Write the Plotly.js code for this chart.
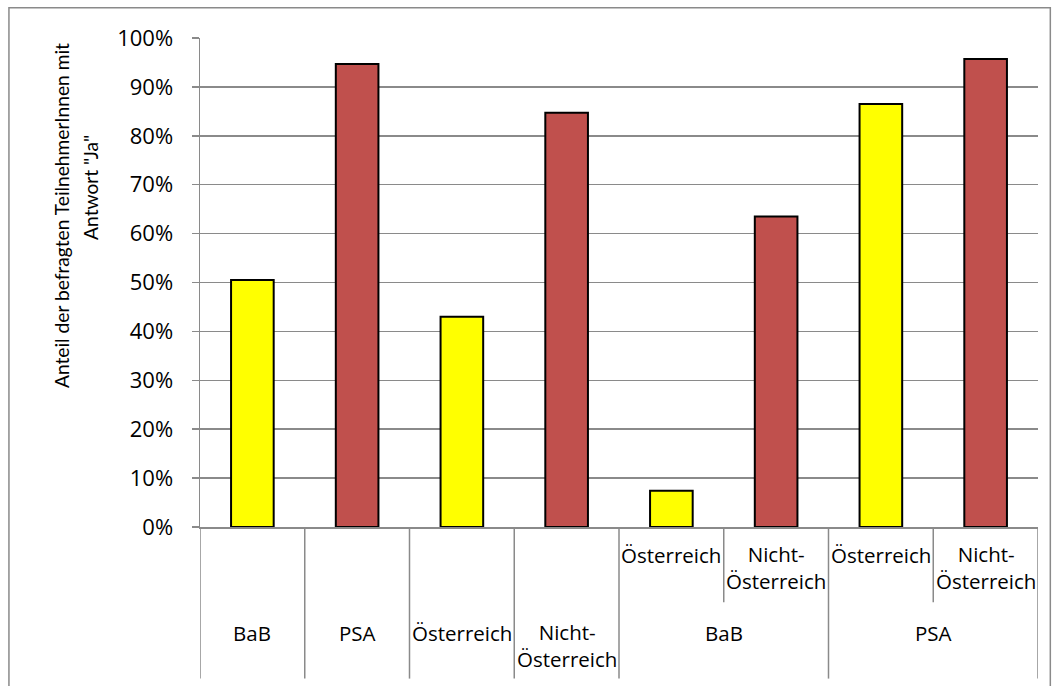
<!DOCTYPE html>
<html>
<head>
<meta charset="utf-8">
<script src="https://cdn.plot.ly/plotly-3.0.1.min.js"></script>
<style>
html,body{margin:0;padding:0;background:#fff;}
#chart{width:1055px;height:686px;}
</style>
</head>
<body>
<div id="chart"></div>
<script>
// ---- data ----
const categories = ["BaB", "PSA", "Österreich", "Nicht-Österreich", "Österreich", "Nicht-Österreich", "Österreich", "Nicht-Österreich"];
const groups = ["", "", "", "", "BaB", "BaB", "PSA", "PSA"];
const values = [0.505, 0.947, 0.430, 0.847, 0.074, 0.635, 0.865, 0.957];
const barColors = ["#FFFF00", "#C0504D", "#FFFF00", "#C0504D", "#FFFF00", "#C0504D", "#FFFF00", "#C0504D"];
const yTitleLines = ["Anteil der befragten TeilnehmerInnen mit", "Antwort \"Ja\""];

// ---- build ----
const FONT = "Open Sans, Lato, sans-serif";
const TITLE_FONT = "Lato, Open Sans, sans-serif";
const CAT_SIZE = 20.5;
const xs = categories.map((_, i) => i);
const fmt = s => s.replace("-", "-<br>");

const trace = {
  type: "bar",
  x: xs,
  y: values,
  marker: { color: barColors, line: { color: "#000000", width: 2 } },
  hoverinfo: "skip"
};

const shapes = [];
const annotations = [];

// category dividers
for (let i = 0; i <= categories.length; i++) {
  const b = i - 0.5;
  let full = true;
  if (i > 0 && i < categories.length && groups[i] !== "" && groups[i] === groups[i - 1]) full = false;
  shapes.push({
    type: "line", xref: "x", yref: "paper",
    x0: b, x1: b, y0: 0, y1: full ? -0.31 : -0.154,
    line: { color: "#8a8a8a", width: 1.5 }
  });
}

// category labels
categories.forEach((c, i) => {
  const twoLine = c.indexOf("-") >= 0;
  if (groups[i] === "") {
    annotations.push({
      xref: "x", yref: "paper", x: i, y: twoLine ? -0.243 : -0.2177,
      text: fmt(c), showarrow: false, xanchor: "center", yanchor: "middle",
      font: { family: FONT, size: CAT_SIZE, color: "#000" }
    });
  } else {
    annotations.push({
      xref: "x", yref: "paper", x: i, y: twoLine ? -0.0835 : -0.058,
      text: fmt(c), showarrow: false, xanchor: "center", yanchor: "middle",
      font: { family: FONT, size: CAT_SIZE, color: "#000" }
    });
  }
});
// group labels
const seen = {};
groups.forEach((g, i) => {
  if (g === "" || seen[g]) return;
  seen[g] = true;
  const idx = groups.map((v, k) => v === g ? k : -1).filter(k => k >= 0);
  const mid = (idx[0] + idx[idx.length - 1]) / 2;
  annotations.push({
    xref: "x", yref: "paper", x: mid, y: -0.2177,
    text: g, showarrow: false, xanchor: "center", yanchor: "middle",
    font: { family: FONT, size: CAT_SIZE, color: "#000" }
  });
});

// y-axis title (two lines)
annotations.push({
  xref: "paper", yref: "paper", x: -0.1659, y: 0.638, textangle: -90,
  text: yTitleLines[0], showarrow: false, xanchor: "center", yanchor: "middle",
  font: { family: TITLE_FONT, size: 19.2, color: "#000" }
});
annotations.push({
  xref: "paper", yref: "paper", x: -0.1301, y: 0.6955, textangle: -90,
  text: yTitleLines[1], showarrow: false, xanchor: "center", yanchor: "middle",
  font: { family: TITLE_FONT, size: 19.2, color: "#000" }
});

// outer chart frame
shapes.push({
  type: "rect", xref: "paper", yref: "paper",
  x0: -0.228, x1: 1.0147, y0: -0.34, y1: 1.062,
  line: { color: "#8a8a8a", width: 1.5 }, fillcolor: "rgba(0,0,0,0)"
});

const layout = {
  width: 1055, height: 686,
  margin: { l: 200, r: 17.3, t: 38.3, b: 159.3, pad: 0 },
  paper_bgcolor: "#ffffff", plot_bgcolor: "#ffffff",
  showlegend: false,
  bargap: 0.593,
  font: { family: FONT, size: 18, color: "#000" },
  xaxis: {
    range: [-0.5, categories.length - 0.5],
    showticklabels: false, showgrid: false, zeroline: false,
    showline: true, linecolor: "#8a8a8a", linewidth: 1.5,
    ticks: "", fixedrange: true
  },
  yaxis: {
    range: [0, 1], dtick: 0.1, tick0: 0, tickformat: ".0%",
    showgrid: true, gridcolor: "#8a8a8a", gridwidth: 1.5,
    zeroline: false, showline: true, linecolor: "#8a8a8a", linewidth: 1.5,
    ticks: "outside", ticklen: 7, tickcolor: "#8a8a8a", tickwidth: 1.5,
    ticklabelstandoff: 14,
    tickfont: { family: FONT, size: 22, color: "#000" },
    fixedrange: true
  },
  shapes: shapes,
  annotations: annotations
};

Plotly.newPlot("chart", [trace], layout, { staticPlot: true, displayModeBar: false });
</script>
</body>
</html>
